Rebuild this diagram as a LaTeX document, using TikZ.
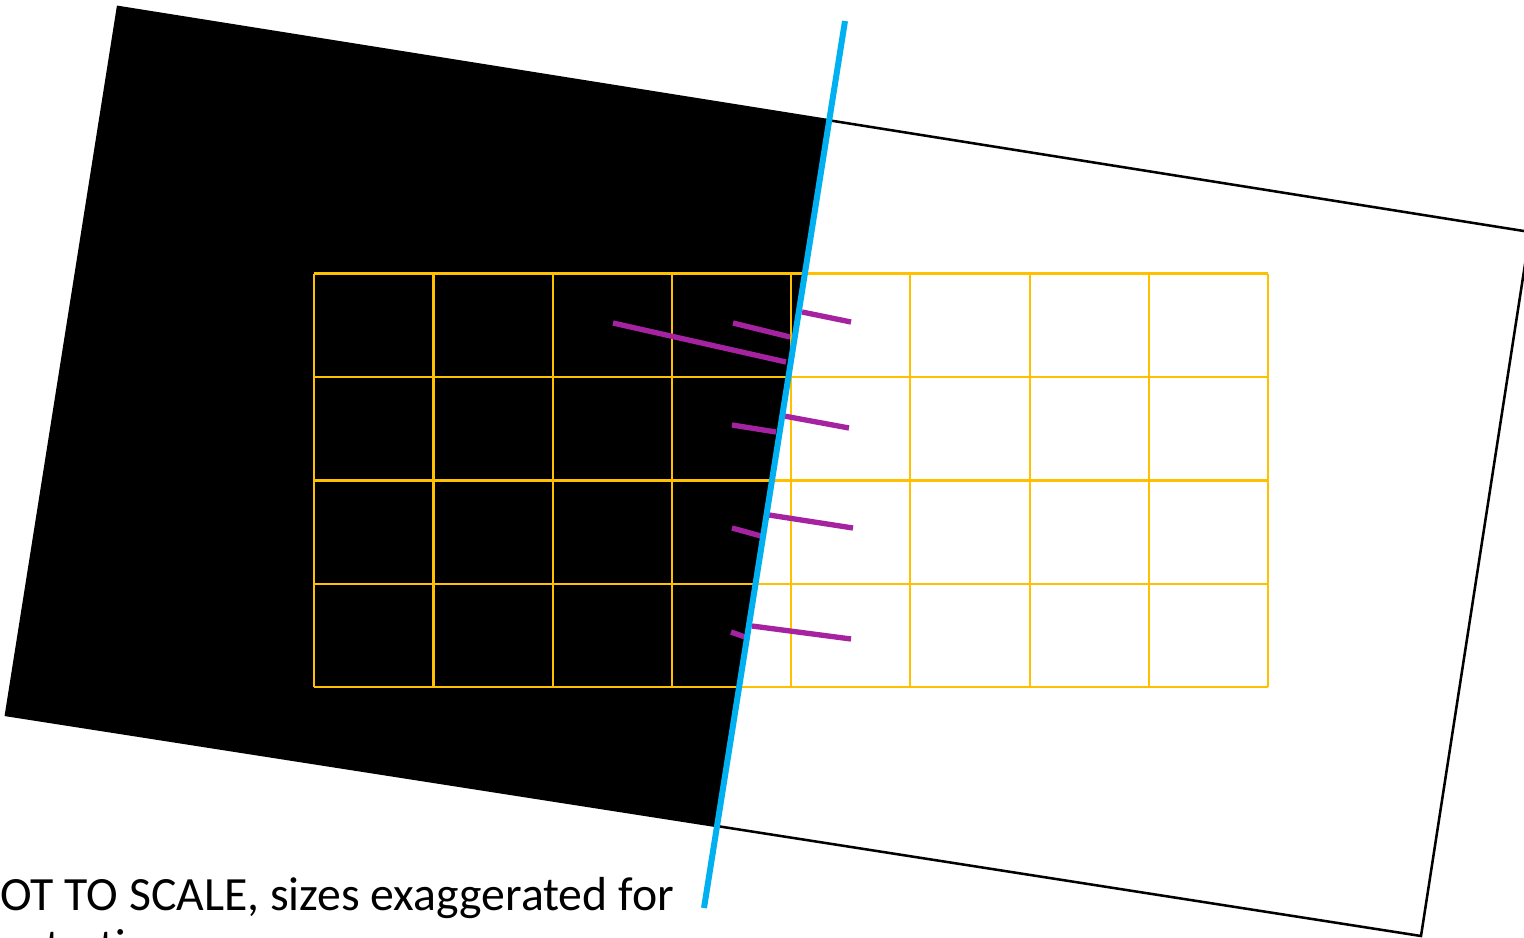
\documentclass[tikz,border=0pt]{standalone}
\usepackage{fontspec}
\setmainfont{Carlito}
\definecolor{gridgold}{RGB}{255,192,0}
\definecolor{cutblue}{RGB}{0,176,240}
\definecolor{tickmag}{RGB}{165,35,160}
\tikzset{
  frame/.style={draw=black,line width=1.9pt,line join=miter},
  gridline/.style={draw=gridgold,line width=1.7pt},
  tick/.style={draw=tickmag,line width=4pt},
  cutline/.style={draw=cutblue,line width=4.5pt},
  note/.style={inner sep=0pt,anchor=base west,align=left,font=\fontsize{35.8}{39.5}\selectfont}
}
\begin{document}
\begin{tikzpicture}[x=0.75pt,y=-0.75pt]
\clip (0,0) rectangle (1524,938);
% rotated frame corners
\coordinate (tl) at (118,7);
\coordinate (tr) at (1530,232);
\coordinate (br) at (1421,936);
\coordinate (bl) at (6,715);
% cut line ends
\coordinate (ctop) at (845,21);
\coordinate (cbot) at (704,908);
\coordinate (xt) at (intersection of tl--tr and ctop--cbot);
\coordinate (xb) at (intersection of bl--br and ctop--cbot);
% black part
\fill[black] (tl) -- (xt) -- (xb) -- (bl) -- cycle;
\draw[frame] (tl) -- (tr) -- (br) -- (bl) -- cycle;
% grid
\foreach \x in {314,433.5,553,672,791,910,1030,1149,1268}
  \draw[gridline] (\x,273.5) -- (\x,687);
\foreach \y in {273.5,377,480.5,584,687}
  \draw[gridline] (314,\y) -- (1268,\y);
% ticks
\draw[tick] (613,323) -- (786,362);
\draw[tick] (733,323) -- (790,337);
\draw[tick] (802,312) -- (851,322);
\draw[tick] (732,425) -- (776,432);
\draw[tick] (784,416) -- (849,428);
\draw[tick] (732,528) -- (761,536);
\draw[tick] (769,515) -- (853,528);
\draw[tick] (731,632) -- (745,637);
\draw[tick] (752,626) -- (851,639);
% cut line
\draw[cutline] (ctop) -- (cbot);
% note (base anchor is the last line's baseline; first line's baseline at y=910)
\node[note] (txt) at (-30.5,962.7) {NOT TO SCALE, sizes exaggerated for\\illustration};
\end{tikzpicture}
\end{document}
